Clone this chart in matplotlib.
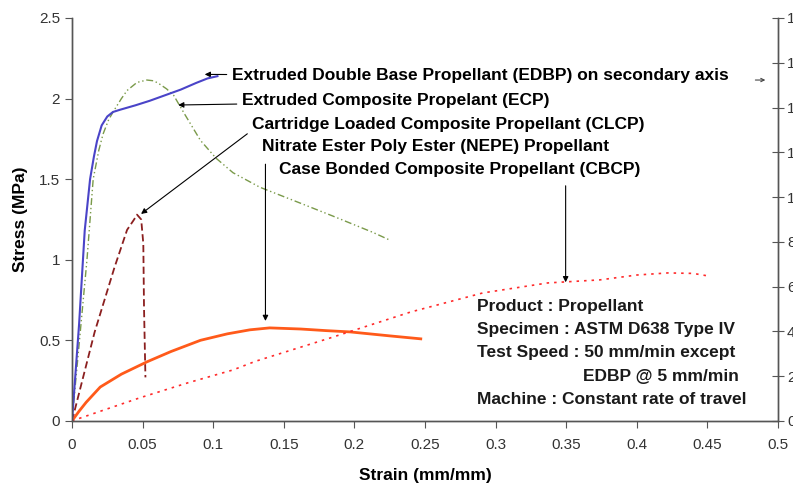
import matplotlib.pyplot as plt
import numpy as np

plt.rcParams['font.family'] = ['Liberation Sans', 'DejaVu Sans']

# EDBP (secondary axis, 0-18)
edbp_x = [0, 0.005, 0.009, 0.0128, 0.0155, 0.0177, 0.021, 0.025, 0.029, 0.034, 0.045, 0.055, 0.066, 0.077, 0.088, 0.096, 0.103]
edbp_y = [0, 4.3, 8.5, 10.8, 11.8, 12.5, 13.2, 13.6, 13.8, 13.9, 14.1, 14.3, 14.55, 14.8, 15.1, 15.3, 15.4]

# ECP
ecp_x = [0, 0.0106, 0.015, 0.019, 0.022, 0.026, 0.030, 0.035, 0.039, 0.046, 0.053, 0.058, 0.062, 0.067, 0.072, 0.080, 0.091, 0.102, 0.114, 0.133, 0.162, 0.185, 0.213, 0.2255]
ecp_y = [0, 1.0, 1.5, 1.68, 1.78, 1.87, 1.93, 2.0, 2.05, 2.10, 2.115, 2.11, 2.09, 2.06, 2.02, 1.90, 1.74, 1.63, 1.54, 1.45, 1.35, 1.27, 1.17, 1.12]

# CLCP
clcp_x = [0, 0.016, 0.030, 0.039, 0.044, 0.046, 0.049, 0.0505, 0.051, 0.052]
clcp_y = [0, 0.55, 0.95, 1.185, 1.25, 1.28, 1.25, 1.1, 0.7, 0.27]

# NEPE
nepe_x = [0, 0.005, 0.010, 0.020, 0.035, 0.053, 0.070, 0.091, 0.110, 0.126, 0.140, 0.162, 0.180, 0.197, 0.2255, 0.247]
nepe_y = [0, 0.06, 0.115, 0.21, 0.29, 0.366, 0.43, 0.50, 0.54, 0.565, 0.577, 0.57, 0.56, 0.552, 0.527, 0.509]

# CBCP
cbcp_x = [0, 0.048, 0.082, 0.114, 0.130, 0.183, 0.240, 0.291, 0.337, 0.374, 0.400, 0.422, 0.440, 0.450]
cbcp_y = [0, 0.143, 0.236, 0.316, 0.37, 0.515, 0.676, 0.794, 0.856, 0.875, 0.905, 0.918, 0.915, 0.90]

x_ticks = [0, 0.05, 0.1, 0.15, 0.2, 0.25, 0.3, 0.35, 0.4, 0.45, 0.5]
x_labels = ['0', '0.05', '0.1', '0.15', '0.2', '0.25', '0.3', '0.35', '0.4', '0.45', '0.5']
y_ticks = [0, 0.5, 1, 1.5, 2, 2.5]
y_labels = ['0', '0.5', '1', '1.5', '2', '2.5']
y2_ticks = [0, 2, 4, 6, 8, 10, 12, 14, 16, 18]

info_lines = ["Product : Propellant",
              "Specimen : ASTM D638 Type IV",
              "Test Speed : 50 mm/min except",
              "EDBP @ 5 mm/min",
              "Machine : Constant rate of travel"]

fig = plt.figure(figsize=(7.93, 4.86), dpi=100)
ax = fig.add_axes([0.0908, 0.134, 0.8903, 0.829])
ax2 = ax.twinx()

axc = '#555555'
for a in (ax, ax2):
    a.spines['top'].set_visible(False)
    for s in ('left', 'bottom', 'right'):
        a.spines[s].set_color(axc)
        a.spines[s].set_linewidth(1.0)

ax.plot(ecp_x, ecp_y, color='#7a9a4a', lw=1.0, ls=(0, (5, 2, 1, 2, 1, 2)))
ax.plot(clcp_x, clcp_y, color='#8b1f1f', lw=1.3, ls=(0, (4, 2)))
ax.plot(nepe_x, nepe_y, color='#ff5a1a', lw=2.0)
ax.plot(cbcp_x, cbcp_y, color='#ff2a2a', lw=1.2, ls=(0, (1.5, 3)))
ax2.plot(edbp_x, edbp_y, color='#4a44c8', lw=1.5)

ax.set_xlim(0, 0.5)
ax.set_ylim(0, 2.5)
ax2.set_ylim(0, 18)
ax.set_xticks(x_ticks, x_labels)
ax.set_yticks(y_ticks, y_labels)
ax2.set_yticks(y2_ticks, [str(v) for v in y2_ticks])

ax.tick_params(axis='both', direction='out', length=5, color=axc, labelsize=11, labelcolor='#333333')
ax.tick_params(axis='x', pad=7)
ax2.tick_params(axis='y', direction='inout', length=9, color=axc, labelsize=11, labelcolor='#333333', pad=2)

ax.set_xlabel('Strain (mm/mm)', fontsize=12.5, fontweight='bold', labelpad=12)
ax.set_ylabel('Stress (MPa)', fontsize=12.5, fontweight='bold', labelpad=8)

tfs = 12.5
arr = dict(arrowstyle='-|>', color='black', lw=0.8, mutation_scale=8, shrinkA=2, shrinkB=0)
ax.annotate('Extruded Double Base Propellant (EDBP) on secondary axis',
            xy=(0.094, 2.15), xytext=(0.1135, 2.14), fontsize=tfs, fontweight='bold',
            ha='left', va='center', arrowprops=arr)
ax.annotate('', xy=(0.493, 2.115), xytext=(0.482, 2.115),
            arrowprops=dict(arrowstyle='->', color='#444444', lw=0.8, mutation_scale=6))
ax.annotate('Extruded Composite Propelant (ECP)',
            xy=(0.0752, 1.96), xytext=(0.1206, 1.985), fontsize=tfs, fontweight='bold',
            ha='left', va='center', arrowprops=dict(arr, relpos=(0, 0.3)))
ax.annotate('Cartridge Loaded Composite Propellant (CLCP)',
            xy=(0.0489, 1.284), xytext=(0.1277, 1.842), fontsize=tfs, fontweight='bold',
            ha='left', va='center', arrowprops=dict(arr, relpos=(0, 0.1)))
ax.text(0.1348, 1.70, 'Nitrate Ester Poly Ester (NEPE) Propellant', fontsize=tfs,
        fontweight='bold', ha='left', va='center')
ax.annotate('', xy=(0.137, 0.62), xytext=(0.137, 1.61), arrowprops=arr)
ax.text(0.1468, 1.557, 'Case Bonded Composite Propellant (CBCP)', fontsize=tfs,
        fontweight='bold', ha='left', va='center')
ax.annotate('', xy=(0.3496, 0.86), xytext=(0.3496, 1.476), arrowprops=arr)

info_y = [0.707, 0.5645, 0.422, 0.273, 0.130]
for i, line in enumerate(info_lines):
    xx = 0.3617 if i == 3 else 0.287
    ax.text(xx, info_y[i], line, fontsize=tfs, fontweight='bold', ha='left', va='center',
            color='#1a1a1a')

fig.savefig('out.png', dpi=100)
